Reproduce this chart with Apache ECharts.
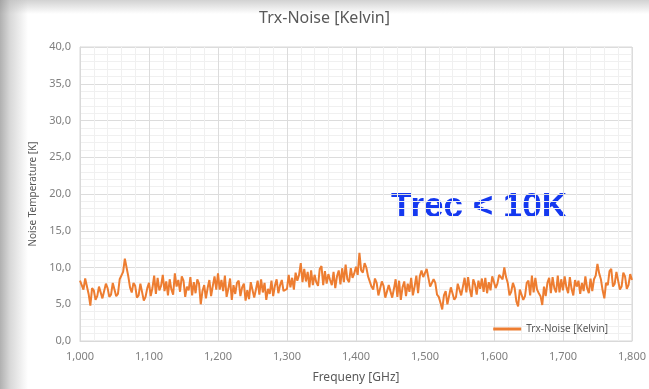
<!DOCTYPE html>
<html>
<head>
<meta charset="utf-8">
<script src="https://cdn.jsdelivr.net/npm/echarts@6/dist/echarts.min.js"></script>
<style>
  html, body { margin: 0; padding: 0; }
  body {
    width: 649px; height: 389px; overflow: hidden;
    background:
      linear-gradient(to right, rgba(150,150,150,0.75) 0px, rgba(190,190,190,0.6) 10px, rgba(255,255,255,0) 28px),
      linear-gradient(to bottom, rgba(180,180,180,0.6) 0px, rgba(255,255,255,0) 14px),
      #ffffff;
  }
  #chart { width: 649px; height: 389px; }
</style>
</head>
<body>
<div id="chart"></div>
<script>
// frequency axis, GHz (2.5 GHz step)
const freqStart = 1000;
const freqStep = 2.5;

// noise temperature in K (one row = 50 GHz)
const noise = [
    8.2, 7.6, 7.0, 8.5, 8.3, 6.4, 4.8, 7.2, 6.9, 5.6, 6.1, 7.4, 7.6, 5.8, 5.9, 7.8, 7.2, 6.0, 6.3, 7.9,
    7.8, 6.1, 6.4, 8.4, 8.2, 9.4, 11.2, 10.0, 8.8, 7.3, 6.6, 7.9, 7.5, 5.9, 6.2, 7.8, 7.6, 5.5, 6.0, 7.2,
    7.9, 6.1, 7.2, 8.9, 6.4, 8.6, 6.9, 7.5, 9.0, 6.8, 8.1, 6.2, 8.4, 7.0, 6.3, 9.2, 7.4, 8.3, 6.7, 8.8,
    8.2, 6.0, 7.4, 6.9, 8.7, 6.2, 8.0, 6.5, 8.4, 7.8, 5.0, 6.8, 7.6, 5.8, 7.2, 8.3, 6.1, 7.5, 8.8, 7.0,
    9.2, 7.0, 8.3, 6.8, 8.9, 6.0, 7.1, 8.5, 5.6, 7.6, 6.4, 7.9, 8.2, 6.1, 7.3, 7.8, 5.5, 6.9, 5.7, 8.0,
    7.8, 5.9, 7.0, 8.2, 6.3, 8.4, 6.6, 7.9, 5.6, 7.1, 6.4, 8.2, 6.1, 7.5, 8.4, 6.5, 7.6, 8.3, 6.8, 7.0,
    7.1, 9.0, 7.3, 8.6, 7.0, 9.3, 8.2, 9.0, 10.6, 8.0, 9.8, 8.1, 9.4, 7.3, 9.6, 7.6, 9.0, 8.0, 7.5, 9.8,
    10.2, 7.6, 9.5, 7.8, 9.1, 8.3, 7.6, 9.4, 7.2, 8.8, 9.6, 7.7, 9.9, 8.0, 10.4, 8.4, 8.0, 9.9, 8.6, 9.2,
    10.1, 9.0, 12.0, 9.6, 9.3, 10.6, 10.0, 8.8, 8.9, 7.4, 7.0, 8.5, 7.9, 6.2, 6.3, 8.1, 7.5, 5.9, 5.8, 7.6,
    7.6, 5.9, 7.1, 8.4, 6.0, 8.2, 5.6, 7.3, 8.1, 6.1, 7.8, 6.7, 8.6, 6.2, 7.4, 8.9, 6.5, 8.8, 9.6, 8.7,
    8.9, 9.8, 9.6, 7.4, 7.2, 8.4, 7.9, 6.3, 6.0, 5.2, 4.3, 6.2, 6.8, 5.0, 5.2, 7.3, 7.4, 5.6, 6.0, 7.8,
    8.0, 6.2, 7.4, 8.6, 6.6, 8.7, 7.0, 6.0, 8.4, 7.7, 6.3, 8.2, 7.1, 8.5, 6.7, 8.6, 6.5, 8.0, 6.9, 8.8,
    8.6, 7.2, 7.8, 9.0, 9.2, 8.4, 10.0, 8.7, 7.9, 6.2, 6.7, 7.9, 7.2, 5.4, 4.7, 7.0, 6.8, 5.6, 6.1, 7.9,
    8.2, 6.2, 8.9, 6.6, 8.6, 7.0, 6.5, 6.1, 4.9, 7.4, 6.1, 7.9, 8.6, 6.5, 8.7, 7.2, 6.6, 8.9, 6.6, 8.4,
    6.9, 8.8, 7.3, 6.5, 8.7, 7.1, 6.2, 8.3, 7.4, 8.2, 6.4, 7.9, 6.8, 8.8, 7.2, 6.5, 8.5, 6.8, 8.4, 8.9,
    10.5, 9.2, 8.4, 6.9, 5.8, 7.9, 7.6, 9.5, 9.8, 7.4, 7.8, 9.4, 9.2, 7.0, 7.4, 9.3, 8.8, 7.1, 7.6, 9.1,
    8.3
];

const seriesName = 'Trx-Noise [Kelvin]';
const textColor = '#7f7f7f';
const font = 'Noto Sans';

let points = noise.map((v, i) => [freqStart + i * freqStep, v]);

let app = echarts.init(document.getElementById('chart'));

let option = {
    backgroundColor: 'transparent',
    animation: false,
    title: {
        text: 'Trx-Noise [Kelvin]',
        left: 'center',
        top: 5,
        textStyle: { color: '#595959', fontFamily: font, fontSize: 16, fontWeight: 'normal' }
    },
    legend: {
        right: 36,
        top: 319,
        icon: 'rect',
        itemWidth: 28,
        itemHeight: 3,
        textStyle: { color: '#595959', fontFamily: font, fontSize: 10 },
        data: [seriesName]
    },
    grid: { left: 80, right: 17, top: 47, bottom: 48 },
    xAxis: {
        type: 'value',
        min: 1000,
        max: 1800,
        interval: 100,
        name: 'Frequeny [GHz]',
        nameLocation: 'middle',
        nameGap: 31,
        nameTextStyle: { color: '#595959', fontFamily: font, fontSize: 12 },
        axisLine: { show: true, lineStyle: { color: '#d9d9d9' } },
        axisTick: { show: false },
        axisLabel: {
            color: textColor, fontFamily: font, fontSize: 11, margin: 10,
            formatter: v => Math.floor(v / 1000) + ',' + String(v % 1000).padStart(3, '0')
        },
        splitLine: { show: true, lineStyle: { color: '#dcdcdc' } },
        minorTick: { show: false, splitNumber: 5 },
        minorSplitLine: { show: true, lineStyle: { color: '#f0f0f0' } }
    },
    yAxis: {
        type: 'value',
        min: 0,
        max: 40,
        interval: 5,
        name: 'Noise Temperature [K]',
        nameLocation: 'middle',
        nameGap: 38,
        nameTextStyle: { color: '#595959', fontFamily: font, fontSize: 10 },
        axisLine: { show: true, lineStyle: { color: '#d9d9d9' } },
        axisTick: { show: false },
        axisLabel: {
            color: textColor, fontFamily: font, fontSize: 11, margin: 9,
            formatter: v => v.toFixed(1).replace('.', ',')
        },
        splitLine: { show: true, lineStyle: { color: '#dcdcdc' } },
        minorTick: { show: false, splitNumber: 5 },
        minorSplitLine: { show: true, lineStyle: { color: '#f0f0f0' } }
    },
    graphic: [
        {
            type: 'rect',
            shape: { x: 80, y: 47, width: 552, height: 294 },
            style: { fill: 'none', stroke: '#d9d9d9', lineWidth: 1 },
            silent: true
        },
        {
            type: 'text',
            left: 391,
            top: 190,
            style: {
                text: 'Trec < 10K',
                fill: '#1438f0',
                fontFamily: 'Liberation Sans',
                fontWeight: 'bold',
                fontSize: 35
            }
        }
    ],
    series: [
        {
            name: seriesName,
            type: 'line',
            data: points,
            showSymbol: false,
            symbol: 'none',
            lineStyle: { color: '#ed7d31', width: 2 },
            itemStyle: { color: '#ed7d31' }
        }
    ]
};

app.setOption(option);
</script>
</body>
</html>
